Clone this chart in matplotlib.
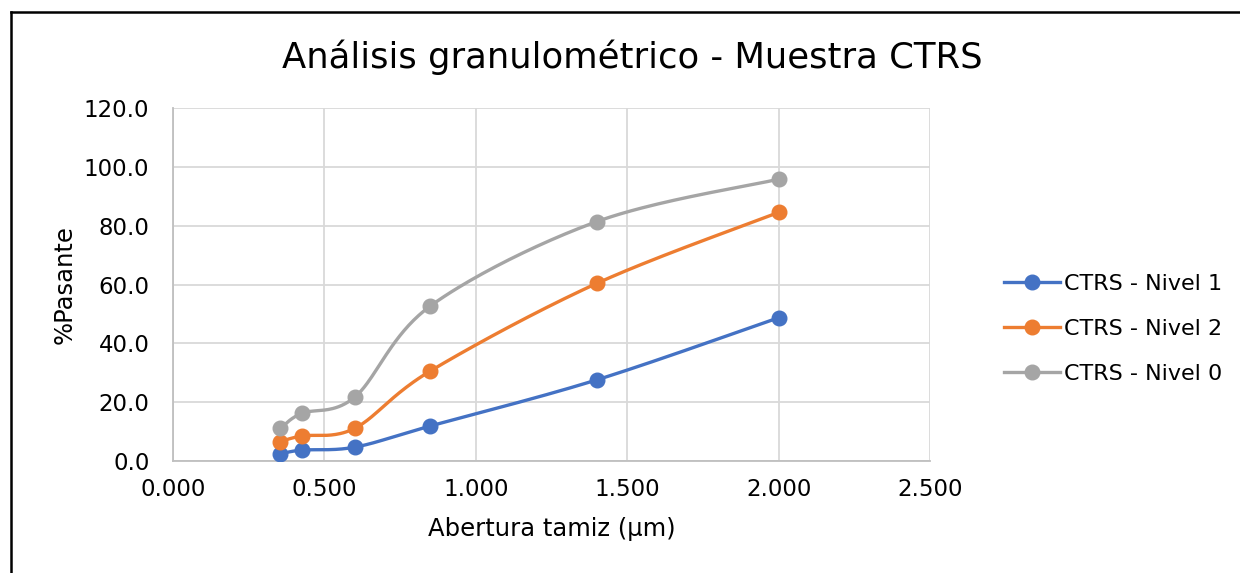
import numpy as np
import matplotlib
matplotlib.use("Agg")
import matplotlib.pyplot as plt
from matplotlib.lines import Line2D

# Sieve openings and cumulative percent passing
abertura = [0.355, 0.425, 0.600, 0.850, 1.400, 2.000]
nivel_1 = [2.4, 3.7, 4.7, 11.9, 27.6, 48.7]
nivel_2 = [6.6, 8.5, 11.1, 30.6, 60.4, 84.5]
nivel_0 = [11.1, 16.2, 21.7, 52.7, 81.4, 95.8]

series_names = ["CTRS - Nivel 1", "CTRS - Nivel 2", "CTRS - Nivel 0"]
series_values = [nivel_1, nivel_2, nivel_0]
series_colors = ["#4472C4", "#ED7D31", "#A5A5A5"]

x_ticks = [0.0, 0.5, 1.0, 1.5, 2.0, 2.5]
y_ticks = [0, 20, 40, 60, 80, 100, 120]

FONT = "DejaVu Sans"
W, H = 1240, 573


def smooth_curve(xs, ys, n=40):
    """Cubic Bezier smoothing through every point (Catmull-Rom style)."""
    P = np.column_stack([xs, ys]).astype(float)
    out = []
    for i in range(len(P) - 1):
        p0 = P[i - 1] if i > 0 else P[i]
        p1 = P[i]
        p2 = P[i + 1]
        p3 = P[i + 2] if i + 2 < len(P) else P[i + 1]
        c1 = p1 + (p2 - p0) / 6.0
        c2 = p2 - (p3 - p1) / 6.0
        t = np.linspace(0, 1, n)[:, None]
        seg = ((1 - t) ** 3) * p1 + 3 * ((1 - t) ** 2) * t * c1 \
            + 3 * (1 - t) * t ** 2 * c2 + t ** 3 * p2
        out.append(seg if i == 0 else seg[1:])
    c = np.vstack(out)
    return c[:, 0], c[:, 1]


fig = plt.figure(figsize=(W / 100, H / 100), dpi=100)
ax = fig.add_axes([173 / W, 1 - 461 / H, (930 - 173) / W, (461 - 108) / H])

for name, vals, col in zip(series_names, series_values, series_colors):
    sx, sy = smooth_curve(abertura, vals)
    ax.plot(sx, sy, color=col, lw=2.4, solid_capstyle="round", zorder=3)
    ax.plot(abertura, vals, ls="none", marker="o", ms=10.5, color=col, zorder=4)

ax.set_xlim(0, 2.5)
ax.set_ylim(0, 120)
ax.set_xticks(x_ticks)
ax.set_yticks(y_ticks)
ax.set_xticklabels([f"{v:.3f}" for v in x_ticks], fontsize=16.5, family=FONT)
ax.set_yticklabels([f"{v:.1f}" for v in y_ticks], fontsize=16.5, family=FONT)
ax.tick_params(axis="x", length=0, pad=12)
ax.tick_params(axis="y", length=0, pad=17)
ax.grid(True, color="#D9D9D9", lw=1.3, zorder=0)
for s in ["top", "right"]:
    ax.spines[s].set_visible(False)
for s in ["left", "bottom"]:
    ax.spines[s].set_color("#BFBFBF")
    ax.spines[s].set_linewidth(1.3)

ax.set_xlabel("Abertura tamiz (μm)", fontsize=17.5, family=FONT, labelpad=12)
ax.set_ylabel("%Pasante", fontsize=17.5, family=FONT, labelpad=5)

fig.text(632 / W, 1 - 57 / H, "Análisis granulométrico - Muestra CTRS",
         ha="center", va="center", fontsize=25.5, family=FONT)

handles = [Line2D([0], [0], color=c, lw=2.4, marker="o", ms=10.5) for c in series_colors]
fig.legend(handles, series_names, loc="center left",
           bbox_to_anchor=(984 / W, 1 - 329 / H), frameon=False,
           prop={"family": FONT, "size": 16}, handlelength=2.5,
           handletextpad=0.2, labelspacing=1.12)

# Frame lines along the top and left edges
fig.add_artist(Line2D([11 / W, 11 / W], [0, 1 - 12 / H], transform=fig.transFigure,
                      color="black", lw=1.8))
fig.add_artist(Line2D([11 / W, 1], [1 - 12 / H, 1 - 12 / H], transform=fig.transFigure,
                      color="black", lw=1.8))

fig.savefig("out.png", dpi=100)
